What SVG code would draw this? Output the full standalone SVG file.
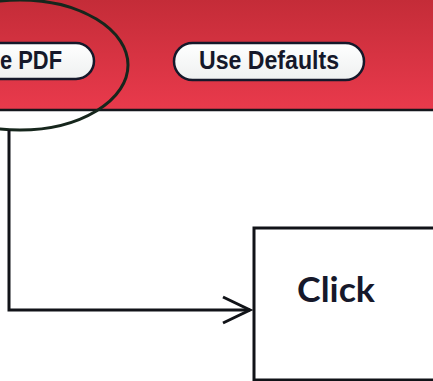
<svg xmlns="http://www.w3.org/2000/svg" width="433" height="381" viewBox="0 0 433 381">
<defs>
<linearGradient id="banner" x1="0" y1="0" x2="0" y2="1">
<stop offset="0" stop-color="#c42c38"/>
<stop offset="1" stop-color="#e93a4c"/>
</linearGradient>
<linearGradient id="pill" x1="0" y1="0" x2="0" y2="1">
<stop offset="0" stop-color="#ffffff"/>
<stop offset="1" stop-color="#eef0f0"/>
</linearGradient>
</defs>
<style>
.btn{fill:url(#pill);stroke:#15182a;stroke-width:2.5}
.btntxt{font-family:"Liberation Sans",Arial,sans-serif;font-weight:bold;font-size:25px;fill:#15182a}
.conn{fill:none;stroke:#111318;stroke-width:3;stroke-linejoin:miter}
</style>
<rect x="0" y="0" width="433" height="381" fill="#ffffff"/>
<g id="banner-bg">
<rect x="0" y="0" width="433" height="110" fill="url(#banner)"/>
<line x1="0" y1="110" x2="433" y2="110" stroke="#14171c" stroke-width="2.5"/>
</g>
<g id="btn-save-pdf">
<rect class="btn" x="-40" y="43" width="134" height="36" rx="18"/>
<text class="btntxt" x="0" y="69" textLength="62" lengthAdjust="spacingAndGlyphs">e PDF</text>
</g>
<g id="btn-use-defaults">
<rect class="btn" x="174" y="43" width="190" height="37" rx="18.5"/>
<text class="btntxt" x="199" y="69" textLength="140" lengthAdjust="spacingAndGlyphs">Use Defaults</text>
</g>
<g id="highlight-ellipse">
<ellipse cx="20" cy="65" rx="108" ry="65" fill="none" stroke="#16261c" stroke-width="3"/>
</g>
<g id="connectors">
<polyline class="conn" points="9,130 9,310 250,310"/>
<polyline class="conn" points="223,297 250,310 223,323"/>
</g>
<g id="node-click">
<rect x="254" y="228" width="190" height="152" fill="#ffffff" stroke="#111318" stroke-width="3"/>
<text x="297" y="302" font-family="Lato,'Open Sans',sans-serif" font-weight="bold" font-size="35" fill="#16182a" textLength="78" lengthAdjust="spacingAndGlyphs">Click</text>
</g>
</svg>
